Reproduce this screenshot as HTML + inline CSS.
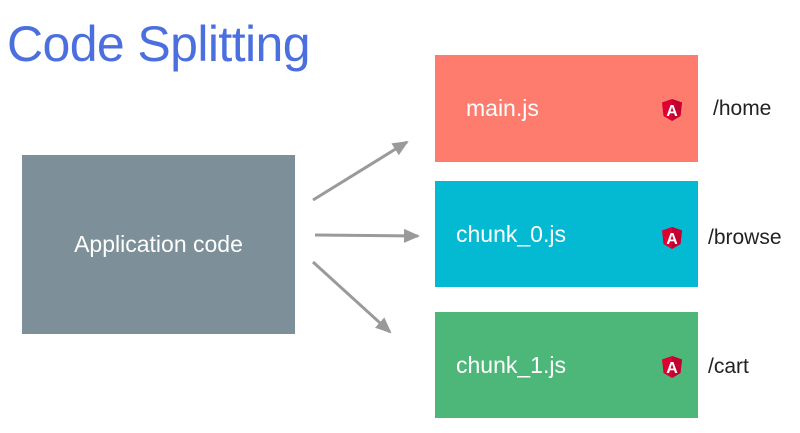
<!DOCTYPE html>
<html><head><style>
body{margin:0;width:800px;height:433px;background:#fff;position:relative;overflow:hidden;font-family:"Liberation Sans",sans-serif}
.t{position:absolute;left:7px;top:15px;font-size:50px;color:#4c6fe0;letter-spacing:-0.6px}
.b{position:absolute;color:#fff;font-size:23px;display:flex;align-items:center}
.l{position:absolute;font-size:21px;color:#222}
</style></head><body>
<div class="t">Code Splitting</div>
<div class="b" style="left:22px;top:155px;width:273px;height:179px;background:#7d8f99;justify-content:center">Application code</div>
<div class="b" style="left:435px;top:55px;width:263px;height:107px;background:#fe7c6e;padding-left:31px;box-sizing:border-box">main.js</div>
<div class="b" style="left:435px;top:181px;width:263px;height:106px;background:#04bad3;padding-left:21px;box-sizing:border-box">chunk_0.js</div>
<div class="b" style="left:435px;top:312px;width:263px;height:106px;background:#4cb778;padding-left:21px;box-sizing:border-box">chunk_1.js</div>
<div class="l" style="left:713px;top:97px">/home</div>
<div class="l" style="left:708px;top:226px">/browse</div>
<div class="l" style="left:708px;top:355px">/cart</div>
<svg width="800" height="433" style="position:absolute;left:0;top:0">
<defs><marker id="a" markerWidth="16" markerHeight="14" refX="14" refY="7" orient="auto" markerUnits="userSpaceOnUse" viewBox="0 0 16 14"><path d="M0,0L16,7L0,14z" fill="#9a9a9a"/></marker>
<g id="ng"><path d="M0,-11L10,-7.5L8.5,6L0,11L-8.5,6L-10,-7.5z" fill="#dd0031"/><path d="M0,-11L10,-7.5L8.5,6L0,11z" fill="#c3002f"/><text x="0" y="6" font-size="16" font-weight="bold" fill="#fff" text-anchor="middle" font-family="Liberation Sans">A</text></g></defs>
<g stroke="#9a9a9a" stroke-width="3" fill="none">
<line x1="313" y1="200" x2="407" y2="142" marker-end="url(#a)"/>
<line x1="315" y1="235" x2="418" y2="236" marker-end="url(#a)"/>
<line x1="313" y1="262" x2="390" y2="332" marker-end="url(#a)"/>
</g>
<use href="#ng" x="672" y="110"/>
<use href="#ng" x="672" y="238"/>
<use href="#ng" x="672" y="367"/>
</svg>
</body></html>
